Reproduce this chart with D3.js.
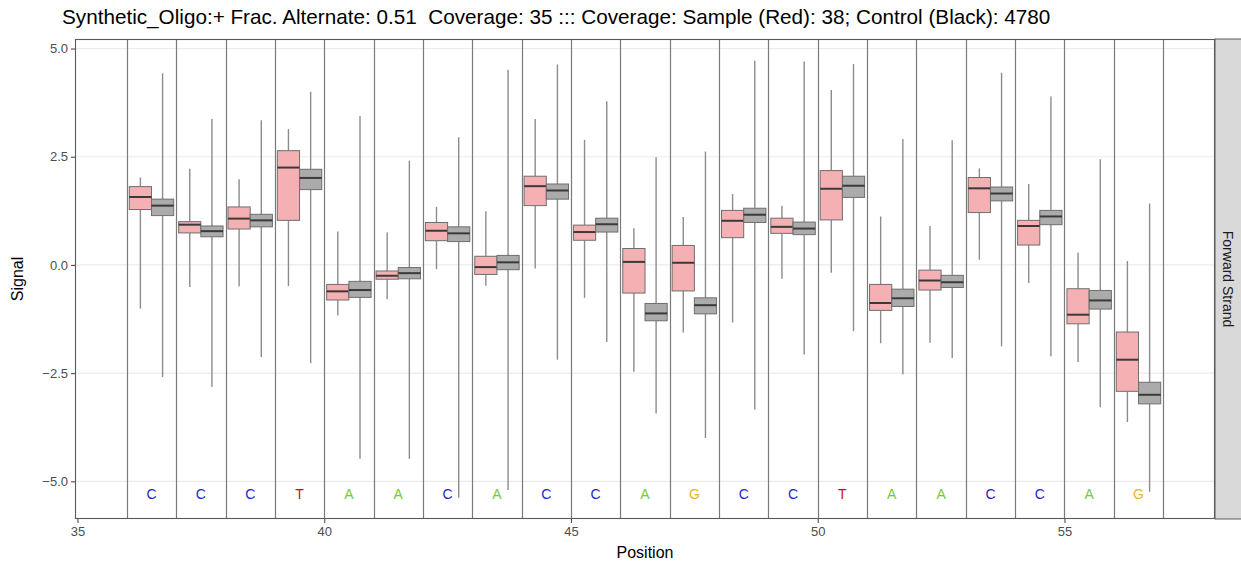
<!DOCTYPE html>
<html>
<head>
<meta charset="utf-8">
<script src="https://cdn.jsdelivr.net/npm/d3@7"></script>
<style>
  html, body { margin: 0; padding: 0; background: #fff; }
  svg { display: block; font-family: "Liberation Sans", Arial, Helvetica, sans-serif; }
  .keep-spaces { white-space: pre; }
</style>
</head>
<body>
<svg id="chart" width="1241" height="563"></svg>
<script>
// Read positions and reference bases
const positions = [36, 37, 38, 39, 40, 41, 42, 43, 44, 45, 46, 47, 48, 49, 50, 51, 52, 53, 54, 55, 56];
const bases = ["C", "C", "C", "T", "A", "A", "C", "A", "C", "C", "A", "G", "C", "C", "T", "A", "A", "C", "C", "A", "G"];

// Sample (red) signal summary per position
const sampleLow  = [-1.01, -0.51, -0.49, -0.49, -1.17, -0.79, -0.10, -0.48, -0.08, -0.76, -2.47, -1.56, -1.33, -0.32, -0.18, -1.81, -1.80, 0.12, -0.42, -2.24, -3.63];
const sampleQ1   = [1.28, 0.74, 0.83, 1.03, -0.81, -0.33, 0.56, -0.22, 1.37, 0.57, -0.65, -0.60, 0.63, 0.73, 1.04, -1.05, -0.58, 1.21, 0.46, -1.36, -2.92];
const sampleMed  = [1.57, 0.93, 1.07, 2.25, -0.61, -0.25, 0.79, -0.05, 1.82, 0.76, 0.07, 0.05, 1.02, 0.88, 1.76, -0.88, -0.36, 1.77, 0.90, -1.15, -2.19];
const sampleQ3   = [1.81, 1.00, 1.34, 2.64, -0.45, -0.14, 0.98, 0.20, 2.05, 0.92, 0.38, 0.45, 1.26, 1.08, 2.18, -0.45, -0.12, 2.02, 1.03, -0.55, -1.55];
const sampleHigh = [2.02, 2.22, 1.98, 3.14, 0.77, 0.75, 1.34, 1.24, 3.37, 2.89, 0.85, 1.11, 1.64, 1.37, 4.04, 1.12, 0.90, 2.23, 1.87, 0.29, 0.09];

// Control (black) signal summary per position
const controlLow  = [-2.59, -2.82, -2.13, -2.27, -4.48, -4.48, -5.38, -5.20, -2.19, -1.78, -3.43, -4.00, -3.34, -2.07, -1.53, -2.53, -2.15, -1.88, -2.11, -3.29, -5.24];
const controlQ1   = [1.14, 0.65, 0.88, 1.74, -0.75, -0.32, 0.54, -0.11, 1.52, 0.76, -1.29, -1.13, 0.98, 0.70, 1.56, -0.96, -0.52, 1.48, 0.93, -1.02, -3.21];
const controlMed  = [1.37, 0.78, 1.03, 2.01, -0.58, -0.19, 0.73, 0.06, 1.72, 0.94, -1.12, -0.93, 1.16, 0.84, 1.83, -0.77, -0.40, 1.65, 1.12, -0.82, -3.00];
const controlQ3   = [1.52, 0.90, 1.17, 2.21, -0.38, -0.06, 0.88, 0.22, 1.87, 1.08, -0.89, -0.76, 1.31, 0.99, 2.05, -0.56, -0.24, 1.80, 1.26, -0.59, -2.71];
const controlHigh = [4.43, 3.37, 3.34, 4.00, 3.44, 2.41, 2.95, 4.51, 4.63, 3.78, 2.49, 2.62, 4.72, 4.70, 4.64, 2.91, 2.88, 4.44, 3.89, 2.44, 1.42];

// Axis ticks
const xTicks = [35, 40, 45, 50, 55];
const yTicks = [-5.0, -2.5, 0.0, 2.5, 5.0];
const dividers = d3.range(36, 58);

const titleText = "Synthetic_Oligo:+ Frac. Alternate: 0.51  Coverage: 35 ::: Coverage: Sample (Red): 38; Control (Black): 4780";
const stripText = "Forward Strand";
const baseColor = { A: "#72CC35", C: "#1F1FCC", G: "#EFB02F", T: "#CC1111" };

const panel = { left: 75, right: 1215, top: 39, bottom: 519 };
const svg = d3.select("#chart");

const x = d3.scaleLinear().domain([34.95, 58.05]).range([panel.left, panel.right]);
const y = d3.scaleLinear().domain([-5.87, 5.22]).range([panel.bottom, panel.top]);

// Panel background and horizontal grid
svg.append("rect")
  .attr("x", panel.left).attr("y", panel.top)
  .attr("width", panel.right - panel.left).attr("height", panel.bottom - panel.top)
  .attr("fill", "#fff");

svg.append("g").selectAll("line").data(yTicks).join("line")
  .attr("x1", panel.left).attr("x2", panel.right)
  .attr("y1", d => y(d)).attr("y2", d => y(d))
  .attr("stroke", "#EBEBEB").attr("stroke-width", 1.2);

// Position dividers
svg.append("g").selectAll("line").data(dividers).join("line")
  .attr("x1", d => Math.round(x(d)) + 0.5).attr("x2", d => Math.round(x(d)) + 0.5)
  .attr("y1", panel.top).attr("y2", panel.bottom)
  .attr("stroke", "#7A7A7A").attr("stroke-width", 1.2);

// Box plots: sample (left half) and control (right half) per position
const boxW = 0.45;
function boxes(cls, offset, low, q1, med, q3, high, fill) {
  const rows = positions.map((p, i) => ({ p, low: low[i], q1: q1[i], med: med[i], q3: q3[i], high: high[i] }));
  const g = svg.append("g").attr("class", cls);
  const item = g.selectAll("g").data(rows).join("g");
  const cx = d => x(d.p + offset);
  item.append("line")
    .attr("x1", cx).attr("x2", cx)
    .attr("y1", d => y(d.high)).attr("y2", d => y(d.q3))
    .attr("stroke", "#8C8C8C").attr("stroke-width", 1.4);
  item.append("line")
    .attr("x1", cx).attr("x2", cx)
    .attr("y1", d => y(d.q1)).attr("y2", d => y(d.low))
    .attr("stroke", "#8C8C8C").attr("stroke-width", 1.4);
  item.append("rect")
    .attr("x", d => x(d.p + offset - boxW / 2))
    .attr("width", d => x(d.p + offset + boxW / 2) - x(d.p + offset - boxW / 2))
    .attr("y", d => y(d.q3))
    .attr("height", d => y(d.q1) - y(d.q3))
    .attr("fill", fill).attr("stroke", "#6E6E6E").attr("stroke-width", 1);
  item.append("line")
    .attr("x1", d => x(d.p + offset - boxW / 2)).attr("x2", d => x(d.p + offset + boxW / 2))
    .attr("y1", d => y(d.med)).attr("y2", d => y(d.med))
    .attr("stroke", "#3A3A3A").attr("stroke-width", 2);
}
boxes("sample", 0.275, sampleLow, sampleQ1, sampleMed, sampleQ3, sampleHigh, "#F5B0B3");
boxes("control", 0.725, controlLow, controlQ1, controlMed, controlQ3, controlHigh, "#ABABAB");

// Reference bases along the bottom
svg.append("g").selectAll("text").data(positions).join("text")
  .attr("x", p => x(p + 0.5))
  .attr("y", y(-5.28))
  .attr("dy", "0.36em")
  .attr("text-anchor", "middle")
  .attr("font-size", 14)
  .attr("fill", (p, i) => baseColor[bases[i]])
  .text((p, i) => bases[i]);

// Panel border
svg.append("rect")
  .attr("x", panel.left + 0.5).attr("y", panel.top + 0.5)
  .attr("width", panel.right - panel.left - 1).attr("height", panel.bottom - panel.top - 1)
  .attr("fill", "none").attr("stroke", "#5A5A5A").attr("stroke-width", 1.1);

// Axes
const yAxis = svg.append("g").attr("transform", `translate(${panel.left},0)`)
  .call(d3.axisLeft(y).tickValues(yTicks).tickSize(4).tickPadding(3)
    .tickFormat(d => d3.format(".1f")(d).replace("-", "\u2212")));
const xAxis = svg.append("g").attr("transform", `translate(0,${panel.bottom})`)
  .call(d3.axisBottom(x).tickValues(xTicks).tickSize(4).tickPadding(4).tickFormat(d3.format("d")));
[yAxis, xAxis].forEach(a => {
  a.select(".domain").remove();
  a.selectAll(".tick line").attr("stroke", "#4D4D4D").attr("stroke-width", 1.1);
  a.selectAll(".tick text").attr("fill", "#4D4D4D").attr("font-size", 13)
    .attr("font-family", "'Liberation Sans', Arial, sans-serif");
});

// Facet strip on the right
svg.append("rect")
  .attr("x", panel.right).attr("y", panel.top)
  .attr("width", 1242 - panel.right).attr("height", panel.bottom - panel.top)
  .attr("fill", "#D9D9D9").attr("stroke", "#5A5A5A").attr("stroke-width", 1);
svg.append("text")
  .attr("transform", `translate(${panel.right + 13},${(panel.top + panel.bottom) / 2}) rotate(90)`)
  .attr("text-anchor", "middle").attr("dy", "0.35em")
  .attr("font-size", 14).attr("fill", "#1A1A1A")
  .text(stripText);

// Titles
svg.append("text")
  .attr("class", "keep-spaces")
  .attr("x", 62).attr("y", 24)
  .attr("font-size", 20.7).attr("fill", "#000")
  .text(titleText);
svg.append("text")
  .attr("x", (panel.left + panel.right) / 2).attr("y", 558)
  .attr("text-anchor", "middle").attr("font-size", 16).attr("fill", "#000")
  .text("Position");
svg.append("text")
  .attr("transform", `translate(23,${(panel.top + panel.bottom) / 2}) rotate(-90)`)
  .attr("text-anchor", "middle").attr("font-size", 16).attr("fill", "#000")
  .text("Signal");
</script>
</body>
</html>
